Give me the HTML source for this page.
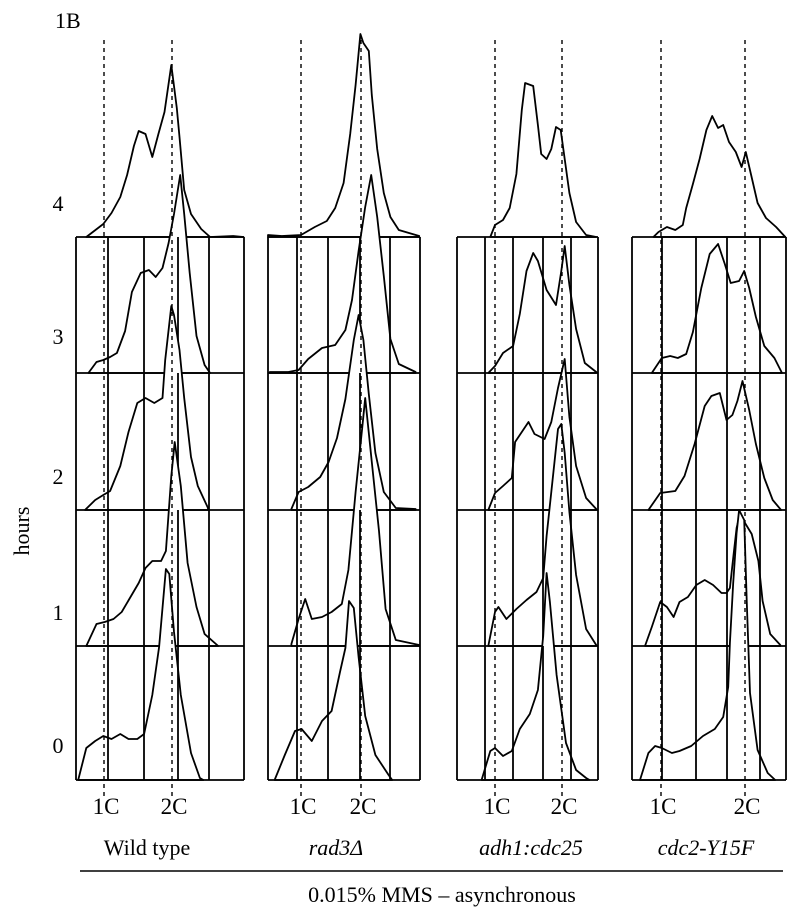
<!DOCTYPE html>
<html><head><meta charset="utf-8"><style>
body{margin:0;background:#fff;}
svg{display:block;font-family:"Liberation Serif",serif;}
</style></head><body>
<svg id="fig" width="800" height="916" viewBox="0 0 800 916" xmlns="http://www.w3.org/2000/svg">
<text x="55" y="28" font-size="22">1B</text>
<text x="58" y="211" font-size="22" text-anchor="middle">4</text>
<text x="58" y="344" font-size="22" text-anchor="middle">3</text>
<text x="58" y="484" font-size="22" text-anchor="middle">2</text>
<text x="58" y="620" font-size="22" text-anchor="middle">1</text>
<text x="58" y="753" font-size="22" text-anchor="middle">0</text>
<text x="0" y="0" font-size="22" text-anchor="middle" transform="translate(29,531) rotate(-90)">hours</text>
<text x="147" y="855" font-size="22" text-anchor="middle">Wild type</text>
<text x="336" y="855" font-size="22" text-anchor="middle" font-style="italic">rad3Δ</text>
<text x="531" y="855" font-size="22" text-anchor="middle" font-style="italic">adh1:cdc25</text>
<text x="706" y="855" font-size="22" text-anchor="middle" font-style="italic">cdc2-Y15F</text>
<line x1="80" y1="871" x2="783" y2="871" stroke="#000" stroke-width="1.5"/>
<text x="442" y="902" font-size="22" text-anchor="middle">0.015% MMS – asynchronous</text>
<g id="plots"></g>
</svg>
<script>
const hours = [0, 1, 2, 3, 4];
const wtDna = [
 [0.62,0.74,0.87,0.99,1.11,1.24,1.36,1.49,1.59,1.71,1.81,1.91,1.96,2.03,2.13,2.28,2.41,2.46],
 [0.74,0.89,1.01,1.14,1.26,1.39,1.51,1.61,1.71,1.84,1.91,1.99,2.04,2.13,2.23,2.36,2.48,2.68],
 [0.72,0.87,0.99,1.09,1.24,1.36,1.49,1.61,1.74,1.86,1.90,1.99,2.03,2.11,2.18,2.28,2.38,2.53],
 [0.77,0.89,0.99,1.09,1.19,1.31,1.41,1.54,1.66,1.76,1.86,1.95,2.03,2.12,2.18,2.26,2.36,2.48,2.56],
 [0.74,0.99,1.11,1.24,1.34,1.44,1.51,1.61,1.71,1.80,1.89,1.99,2.07,2.11,2.18,2.28,2.43,2.56,2.9,3.05]];
const wtCount = [
 [0,32,39,44,41,46,41,41,46,85,133,211,206,148,85,27,2,0],
 [0,22,24,27,34,49,63,78,85,85,95,170,204,160,83,39,12,0],
 [0,10,15,19,44,78,107,112,107,112,150,204,195,160,112,53,24,2],
 [0,11,13,16,20,42,81,100,103,96,105,130,159,198,159,100,37,8,0],
 [0,13,24,40,62,91,106,103,80,103,125,172,129,100,47,23,8,0,1,0]];
const rad3Dna = [
 [0.56,0.73,0.90,1.01,1.18,1.35,1.51,1.65,1.74,1.80,1.88,1.96,2.07,2.24,2.46,2.52],
 [0.84,0.96,1.07,1.18,1.35,1.51,1.68,1.79,1.91,2.02,2.07,2.18,2.30,2.41,2.58,2.97],
 [0.84,0.96,1.12,1.32,1.46,1.60,1.74,1.88,1.96,2.04,2.13,2.24,2.38,2.58,2.91],
 [0.48,0.79,0.96,1.12,1.35,1.57,1.74,1.85,1.96,2.07,2.17,2.27,2.38,2.49,2.63,2.91],
 [0.45,0.68,1.00,1.23,1.43,1.57,1.71,1.82,1.91,1.99,2.04,2.13,2.18,2.27,2.38,2.49,2.63,2.97]];
const rad3Count = [
 [0,25,49,51,39,59,69,108,132,179,172,123,64,25,5,0],
 [2,27,47,27,29,34,42,76,154,218,248,184,115,37,6,1],
 [1,18,23,33,48,72,111,170,195,170,116,57,18,2,1],
 [1,1,3,14,25,28,43,73,122,166,198,156,97,34,9,1],
 [2,1,2,10,16,29,54,103,152,203,194,186,142,88,44,20,7,1]];
const adhDna = [
 [0.80,0.93,1.00,1.12,1.25,1.37,1.52,1.64,1.72,1.77,1.82,1.92,2.06,2.21,2.36,2.41],
 [0.90,1.00,1.05,1.17,1.32,1.47,1.62,1.72,1.77,1.84,1.94,1.99,2.04,2.11,2.21,2.36,2.51],
 [0.90,1.00,1.12,1.25,1.30,1.40,1.50,1.59,1.74,1.84,1.94,2.04,2.11,2.21,2.36,2.51],
 [0.90,1.00,1.12,1.27,1.37,1.47,1.57,1.64,1.77,1.91,1.99,2.04,2.11,2.21,2.34,2.51],
 [0.93,1.00,1.12,1.22,1.32,1.40,1.45,1.57,1.64,1.69,1.77,1.84,1.91,1.98,2.04,2.11,2.21,2.36,2.51]];
const adhCount = [
 [0,29,32,24,29,51,66,90,144,207,178,105,37,10,2,0],
 [0,34,39,27,37,46,54,68,110,154,217,222,193,134,71,17,1],
 [0,17,24,32,68,78,88,76,71,88,122,151,93,44,12,1],
 [0,7,20,27,59,102,120,112,83,68,102,127,88,44,10,1],
 [0,12,17,29,63,127,154,151,112,83,78,88,110,107,78,44,15,2,0]];
const cdcDna = [
 [0.75,0.85,0.93,1.01,1.13,1.22,1.36,1.50,1.64,1.74,1.80,1.82,1.86,1.90,1.93,1.99,2.02,2.06,2.15,2.27,2.36],
 [0.81,0.89,0.99,1.07,1.15,1.22,1.32,1.42,1.52,1.62,1.72,1.78,1.82,1.86,1.90,1.94,2.00,2.08,2.16,2.21,2.30,2.42],
 [0.85,0.99,1.17,1.28,1.40,1.52,1.60,1.70,1.78,1.85,1.91,1.97,2.05,2.13,2.23,2.33,2.43],
 [0.89,1.01,1.11,1.20,1.30,1.38,1.48,1.58,1.68,1.76,1.83,1.93,1.99,2.05,2.13,2.23,2.35,2.44],
 [0.91,0.97,1.07,1.17,1.26,1.30,1.38,1.46,1.54,1.61,1.68,1.74,1.81,1.89,1.96,2.01,2.07,2.15,2.25,2.37,2.48]];
const cdcCount = [
 [0,27,34,32,27,29,34,44,51,63,93,137,197,247,270,260,180,87,30,7,0],
 [0,19,44,39,29,44,49,61,66,61,53,53,58,88,118,132,123,112,85,45,12,1],
 [0,17,19,34,66,104,114,117,90,95,109,129,100,66,32,10,0],
 [0,15,17,15,19,41,85,119,129,109,90,92,102,85,56,27,15,0],
 [0,5,10,7,12,29,53,78,107,121,109,112,95,85,70,85,63,34,19,10,0]];

const strains = ['wild-type','rad3','adh1-cdc25','cdc2-y15f'];
const dnaSets = [wtDna, rad3Dna, adhDna, cdcDna];
const countSets = [wtCount, rad3Count, adhCount, cdcCount];
const panels = [
 {left:76, right:244, x1:104, x2:172, grid:[108,144,178,209]},
 {left:268, right:420, x1:301, x2:361, grid:[297,328,360,390]},
 {left:457, right:598, x1:495, x2:562, grid:[485,513,543,571]},
 {left:632, right:786, x1:661, x2:745, grid:[662,696,727,760]}];
const baselines = [780, 646, 510, 373, 237];
const NS = 'http://www.w3.org/2000/svg';
const g = document.getElementById('plots');
function mk(tag, attrs){const e=document.createElementNS(NS,tag);for(const k in attrs)e.setAttribute(k,attrs[k]);g.appendChild(e);return e;}
function xScale(p,c){return p.x1 + (c-1)*(p.x2-p.x1);}
function yScale(r,v){return baselines[r]-v;}
function line(x1,y1,x2,y2,name){
  const l=mk('line',{x1:x1,y1:y1,x2:x2,y2:y2,stroke:'#000','stroke-width':1.8});
  
  
}
panels.forEach((p,si)=>{
  for(let r=hours.length-1;r>=0;r--){
    const dna=dnaSets[si][r], cnt=countSets[si][r];
    if(r===3){ line(p.left,baselines[4],p.right,baselines[4],'box-top'); }
    let d='M'+xScale(p,dna[0]).toFixed(1)+','+baselines[r];
    for(let i=0;i<dna.length;i++){d+=' L'+xScale(p,dna[i]).toFixed(1)+','+yScale(r,cnt[i]).toFixed(1);}
    d+=' L'+xScale(p,dna[dna.length-1]).toFixed(1)+','+baselines[r]+' Z';
    const path=mk('path',{d:d,fill:'#fff',stroke:'#000','stroke-width':1.8,'stroke-linejoin':'round'});
    
    
    if(r<4){
      const top=baselines[r+1], bot=baselines[r];
      line(p.left,top,p.left,bot,'box-left');
      line(p.right,top,p.right,bot,'box-right');
      line(p.left,bot,p.right,bot,'box-bottom');
      p.grid.forEach(gx=>line(gx,top,gx,bot,'gate-line'));
    }
  }
  [[p.x1,'1C'],[p.x2,'2C']].forEach(([x,lab])=>{
    const dl=mk('line',{x1:x,y1:40,x2:x,y2:796,stroke:'#000','stroke-width':1.4,'stroke-dasharray':'4,4'});
    
    
    const t=mk('text',{x:x+2,y:814,'font-size':23,'text-anchor':'middle'});
    t.textContent=lab;
    
    
  });
});
</script>
</body></html>
